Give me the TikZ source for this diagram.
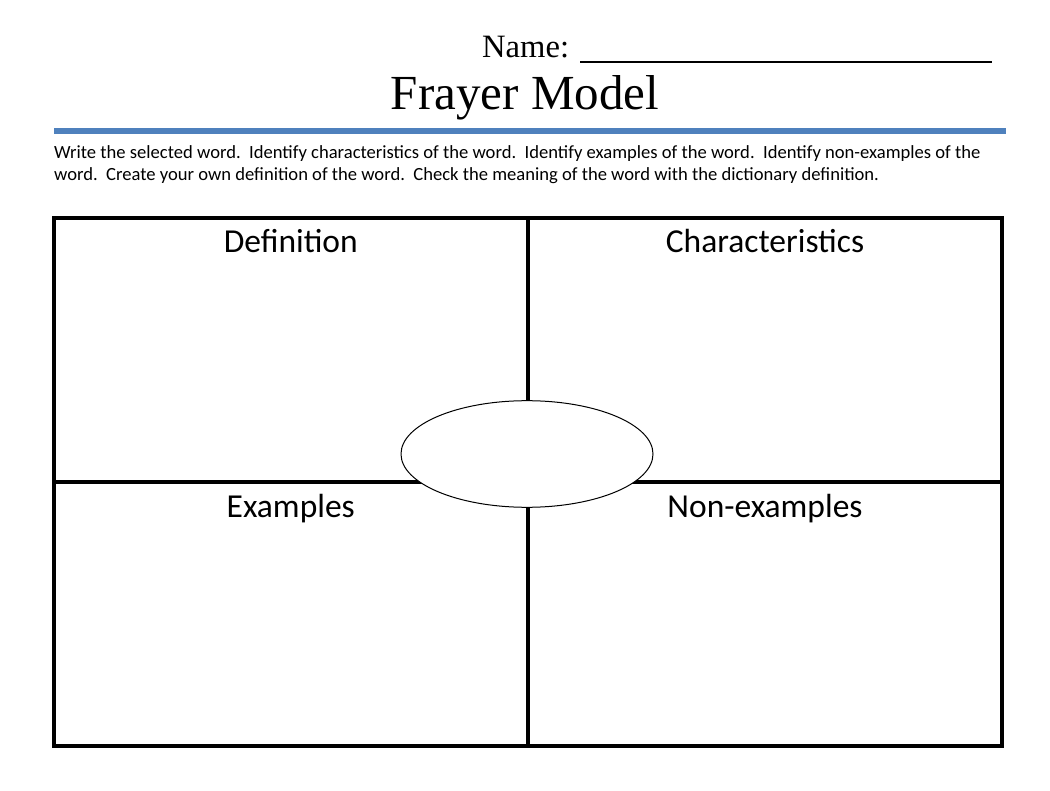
\documentclass[tikz,border=0pt]{standalone}
\usepackage{fontspec}
\setmainfont{Carlito}
\newfontfamily\titlefont{Liberation Serif}
\usetikzlibrary{shapes.geometric}
\definecolor{barblue}{HTML}{4F81BD}
\begin{document}
\begin{tikzpicture}[x=1pt,y=-1pt,
  frame/.style={line width=4pt},
  heading/.style={font=\fontsize{33.5}{40}\selectfont, anchor=base, inner sep=0pt},
  instr/.style={font=\fontsize{18.6}{22}\selectfont, anchor=base west, inner sep=0pt}]
\useasboundingbox (0,0) rectangle (1050,791);
\fill[white] (0,0) rectangle (1050,791);
% header
\node[anchor=base west, inner sep=0pt, font=\titlefont\fontsize{32.6}{38}\selectfont] (name) at (482,58) {Name:};
\coordinate (ulstart) at (580,62);
\coordinate (ulend) at (992,62);
\draw[line width=2pt] (ulstart) -- (ulend);
\node[anchor=base, inner sep=0pt, font=\titlefont\fontsize{49}{58}\selectfont] (title) at (525,110) {Frayer Model};
\coordinate (barL) at (54,131);
\coordinate (barR) at (1006,131);
\draw[barblue, line width=5.5pt] (barL) -- (barR);
\node[instr] (instrA) at (54,159) {Write the selected word.\ \ Identify characteristics of the word.\ \ Identify examples of the word.\ \ Identify non-examples of the};
\node[instr] (instrB) at (54,181) {word.\ \ Create your own definition of the word.\ \ Check the meaning of the word with the dictionary definition.};
% frame
\coordinate (tl) at (53.5,218);
\coordinate (br) at (1002,746);
\draw[frame] (tl) rectangle (br);
\coordinate (vt) at (528,218);
\coordinate (vb) at (528,746);
\coordinate (hl) at (53.5,482);
\coordinate (hr) at (1002,482);
\draw[frame] (vt) -- (vb);
\draw[frame] (hl) -- (hr);
% headings
\node[heading] (def) at (290.75,253) {Definition};
\node[heading] (char) at (765,253) {Characteristics};
\node[heading] (ex) at (290.75,517) {Examples};
\node[heading] (nonex) at (765,517) {Non-examples};
% center ellipse
\node[ellipse, draw, fill=white, line width=1pt, minimum width=252pt, minimum height=106.6pt, inner sep=0pt] (word) at (527,454) {};
\end{tikzpicture}
\end{document}
